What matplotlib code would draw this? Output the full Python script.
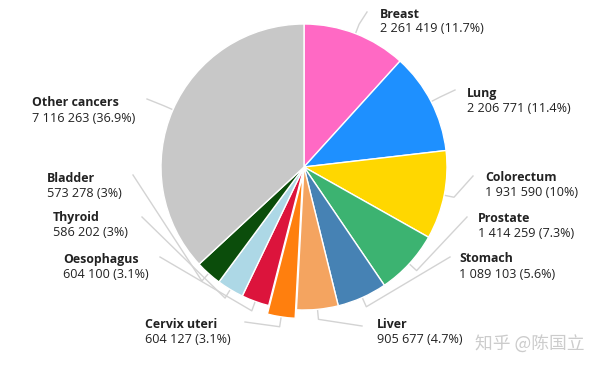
import numpy as np
import matplotlib.pyplot as plt

# данные
labels = ['Breast', 'Lung', 'Colorectum', 'Prostate', 'Stomach', 'Liver',
          'Cervix uteri', 'Oesophagus', 'Thyroid', 'Bladder', 'Other cancers']
cases = [2261419, 2206771, 1931590, 1414259, 1089103, 905677,
         604127, 604100, 586202, 573278, 7116263]
pct_text = ['11.7%', '11.4%', '10%', '7.3%', '5.6%', '4.7%',
            '3.1%', '3.1%', '3%', '3%', '36.9%']
colors = ['#ff69c4', '#1e90ff', '#ffd700', '#3cb371', '#4682b4', '#f4a460',
          '#ff7f0e', '#dc143c', '#add8e6', '#0b4d0b', '#c8c8c8']

# положение подписей в пикселях (x левого края, y центра названия) и конец выноски
label_pos = [(380, 14), (467, 93), (485, 177), (478, 218), (459, 259), (377, 324),
             (145, 324), (63, 260), (53, 217), (47, 178), (32, 103)]
line_end = [(367, 12), (455, 90), (473, 176), (467, 217), (450, 257), (362, 326),
            (245, 322), (160, 257), (142, 217), (133, 175), (147, 99)]

W, H = 600, 370
cx, cy, R = 304, 167, 143

def px(x, y):
    return (x - cx) / R, (cy - y) / R

fig = plt.figure(figsize=(6, 3.7), dpi=100)
ax = fig.add_axes([0, 0, 1, 1])

explode = [0.0] * len(cases)
explode[labels.index('Cervix uteri')] = 0.06
wedges, _ = ax.pie(cases, colors=colors, startangle=90, counterclock=False,
                   explode=explode, radius=1.0,
                   wedgeprops=dict(edgecolor='white', linewidth=1.0))
ax.set_aspect('auto')
ax.set_xlim(-cx / R, (W - cx) / R)
ax.set_ylim(-(H - cy) / R, cy / R)
ax.axis('off')

total = sum(cases)
cum = 0
for i, v in enumerate(cases):
    mid = (cum + v / 2) / total * 2 * np.pi
    cum += v
    sx, sy = np.sin(mid), np.cos(mid)
    r0 = 1.0 + explode[i]
    ex, ey = px(*line_end[i])
    ax.plot([r0 * sx, (r0 + 0.07) * sx, ex], [r0 * sy, (r0 + 0.07) * sy, ey],
            color='#d3d3d3', lw=1.0, zorder=0)
    lx, ly = px(*label_pos[i])
    ax.text(lx, ly, labels[i], fontsize=8.9, fontweight='bold', color='#222222',
            ha='left', va='center', family='Open Sans')
    num = f'{v:,}'.replace(',', ' ')
    ax.text(lx, ly - 15 / R, f'{num} ({pct_text[i]})', fontsize=9.1, color='#222222',
            ha='left', va='center', family='Open Sans')

wx, wy = px(475, 345)
ax.text(wx, wy, '知乎 @陈国立', fontsize=12.8, color='#cccccc', ha='left', va='center',
        family=['Noto Sans CJK SC', 'DejaVu Sans'])

fig.savefig('out.png', dpi=100)
